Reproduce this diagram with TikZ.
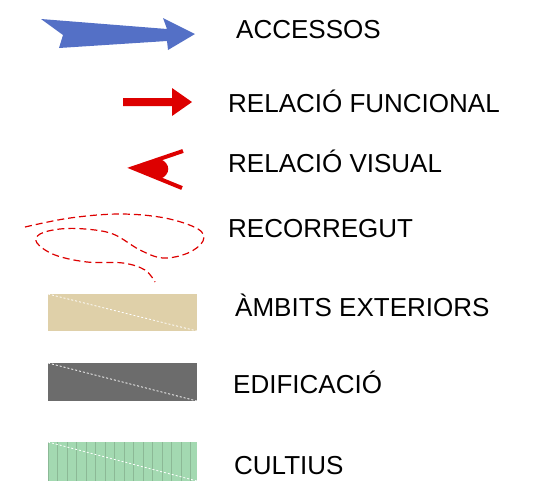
\documentclass[tikz,border=0pt]{standalone}
\usepackage{fontspec}
\setmainfont{Liberation Sans}
\usepackage{xcolor}
\usepackage{tikz}
\usetikzlibrary{positioning,calc}

\definecolor{accesblue}{RGB}{84,112,198}
\definecolor{relred}{RGB}{221,0,0}
\definecolor{exterior}{RGB}{223,208,169}
\definecolor{edifici}{RGB}{108,108,108}
\definecolor{cultiu}{RGB}{163,217,177}
\definecolor{cultiuline}{RGB}{140,185,150}

\tikzset{
    label/.style={anchor=base west, inner sep=0pt, font=\fontsize{26}{30}\selectfont},
    diag/.style={white, dashed, dash pattern=on 2pt off 2pt, line width=0.8pt}
}

\begin{document}
\begin{tikzpicture}[x=1pt, y=-1pt]
    \useasboundingbox (0,0) rectangle (535,483);

    % Accessos
    \fill[accesblue] (41,19) -- (167,29) -- (163,18) -- (195,34) -- (168,50)
        -- (167,41) -- (59,48) -- (63,35) -- cycle;
    \node[label] (accessos) at (236,38) {ACCESSOS};

    % Relacio funcional
    \fill[relred] (123,98) -- (172,98) -- (172,88) -- (192,102) -- (172,116)
        -- (172,106) -- (123,106) -- cycle;
    \node[label] (funcional) at (228,112) {RELACIÓ FUNCIONAL};

    % Relacio visual
    \draw[relred, line width=4pt] (183,151) -- (133,168) -- (182,188);
    \fill[relred] (133,168) -- (160,159) .. controls (171,163) and (171,175) .. (160,179) -- cycle;
    \node[label] (visual) at (228,172) {RELACIÓ VISUAL};

    % Recorregut
    \draw[relred, line width=1.2pt, dash pattern=on 7pt off 4pt] plot[smooth, tension=0.6] coordinates {
        (25,227) (70,218) (120,214) (165,218) (198,229) (203,241) (188,253)
        (163,258) (140,250) (113,234) (85,229) (60,229) (40,234) (37,243)
        (55,255) (87,262) (123,263) (145,270) (155,282)};
    \node[label] (recorregut) at (228,237) {RECORREGUT};

    % Ambits exteriors
    \fill[exterior] (48,294) rectangle (197,331);
    \draw[diag] (48,294) -- (197,331);
    \node[label] (exteriors) at (235,316) {ÀMBITS EXTERIORS};

    % Edificacio
    \fill[edifici] (48,363) rectangle (197,401);
    \draw[diag] (48,363) -- (197,401);
    \node[label] (edificacio) at (233,393) {EDIFICACIÓ};

    % Cultius
    \fill[cultiu] (48,442) rectangle (197,481);
    \foreach \x in {48,57.5,...,197}
        \draw[cultiuline, line width=0.8pt] (\x,442) -- (\x,481);
    \draw[diag] (48,442) -- (197,481);
    \node[label] (cultius) at (234,474) {CULTIUS};
\end{tikzpicture}
\end{document}
